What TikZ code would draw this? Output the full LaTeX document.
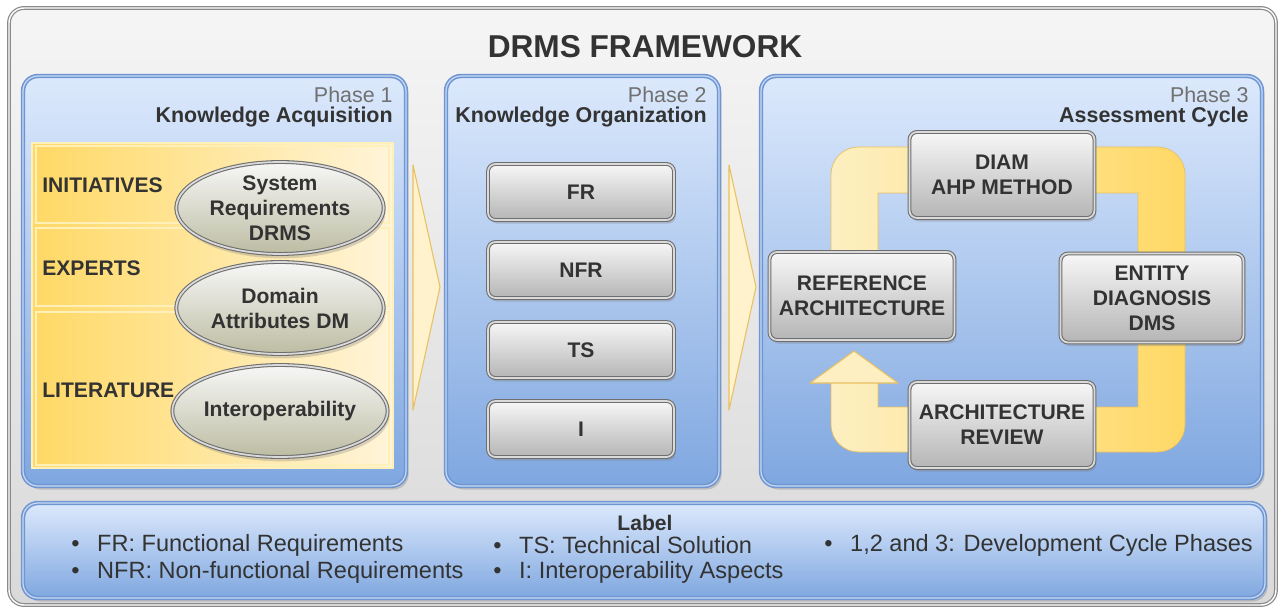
\documentclass[tikz,border=0pt]{standalone}
\usepackage{fontspec}
\setmainfont{Liberation Sans}
\usetikzlibrary{shapes.geometric,shadows,positioning}

\definecolor{txtgray}{HTML}{333333}
\definecolor{phasegray}{HTML}{707070}
\definecolor{framegray}{HTML}{8A8A8A}
\definecolor{frametop}{HTML}{F5F5F5}
\definecolor{framebot}{HTML}{D9D9D9}
\definecolor{panelline}{HTML}{6F96D2}
\definecolor{panelinner}{HTML}{C8DAF5}
\definecolor{paneltop}{HTML}{DCE9FC}
\definecolor{panelbot}{HTML}{7FA7E0}
\definecolor{goldline}{HTML}{E2BA50}
\definecolor{goldinner}{HTML}{FFEFB8}
\definecolor{goldleft}{HTML}{FFD966}
\definecolor{goldright}{HTML}{FFF4D8}
\definecolor{btnline}{HTML}{6E6E6E}
\definecolor{btninner}{HTML}{DADADA}
\definecolor{btntop}{HTML}{F7F7F7}
\definecolor{btnbot}{HTML}{B5B5B5}
\definecolor{chevfill}{HTML}{FFF2CC}
\definecolor{chevline}{HTML}{E8C060}
\definecolor{bandpale}{HTML}{FDEFC2}
\definecolor{banddeep}{HTML}{FFD865}

\newcommand\cellfont{\bfseries\fontsize{12}{14.2}\selectfont}

\tikzset{
  frame/.style={rounded corners=0.3cm, draw=framegray, double=white,
    double distance=0.8pt, line width=0.7pt, top color=frametop, bottom color=framebot},
  panel/.style={rounded corners=0.3cm, draw=panelline, double=panelinner,
    double distance=0.7pt, line width=0.9pt, top color=paneltop, bottom color=panelbot,
    drop shadow={shadow xshift=1.5pt, shadow yshift=-2pt, opacity=0.35}},
  source/.style={draw=goldline, double=goldinner, double distance=0.6pt,
    line width=0.5pt, left color=goldleft, right color=goldright},
  srclabel/.style={anchor=west, inner sep=0pt, font=\cellfont},
  blob/.style={ellipse, draw=btnline, double=btninner, double distance=1pt,
    line width=0.6pt, top color=btntop, bottom color=btnbot!90!yellow,
    minimum width=4.15cm, minimum height=1.84cm, inner sep=0pt, align=center,
    font=\cellfont, drop shadow={shadow xshift=1pt, shadow yshift=-2.5pt, opacity=0.3}},
  button/.style={rectangle, rounded corners=0.15cm, draw=btnline, double=btninner,
    double distance=1pt, line width=0.6pt, top color=btntop, bottom color=btnbot,
    minimum width=3.72cm, minimum height=1.12cm, inner sep=0pt, align=center,
    font=\cellfont, drop shadow={shadow xshift=1pt, shadow yshift=-2pt, opacity=0.35}},
  phasehead/.style={anchor=north east, inner sep=0pt, align=right,
    font=\fontsize{12.2}{11.2}\selectfont},
  chevron/.style={fill=chevfill, draw=chevline, line width=0.6pt, line join=round},
  band/.style={left color=bandpale, right color=banddeep, draw=chevline, line width=0.4pt},
  item/.style={anchor=west, inner sep=0pt, font=\fontsize{13.4}{15}\selectfont},
}

\newcommand\phaselabel[2]{\textcolor{phasegray}{#1}\\\textbf{#2}}

\begin{document}
\begin{tikzpicture}[x=0.02cm, y=-0.02cm, text=txtgray]
\useasboundingbox (0,0) rectangle (1282,611);

% frame and title
\draw[frame] (9,8) rectangle (1276,605);
\node[font=\bfseries\fontsize{18}{20}\selectfont] (title) at (645,47) {DRMS FRAMEWORK};

% phase panels
\draw[panel] (23,76) rectangle (406,486);
\draw[panel] (446,76) rectangle (719,486);
\draw[panel] (761,76) rectangle (1262,486);
\draw[panel] (23,503) rectangle (1265,598);

\node[phasehead] (ph1) at (393,87) {\phaselabel{Phase 1}{Knowledge Acquisition}};
\node[phasehead] (ph2) at (707,87) {\phaselabel{Phase 2}{Knowledge Organization}};
\node[phasehead] (ph3) at (1249,87) {\phaselabel{Phase 3}{Assessment Cycle}};

% chevrons between phases
\draw[chevron] (413,165) -- (440,287) -- (413,410) -- cycle;
\draw[chevron] (729,165) -- (756,287) -- (729,410) -- cycle;

% Phase 1 sources
\draw[source] (32,143) rectangle (393,468);
\draw[source] (36,146) rectangle (389,223);
\draw[source] (36,228) rectangle (389,306);
\draw[source] (36,312) rectangle (389,465);

\node[srclabel] (initiatives) at (42,185) {INITIATIVES};
\node[srclabel] (experts) at (42,268) {EXPERTS};
\node[srclabel] (literature) at (42,390) {LITERATURE};

\node[blob] (sysreq) at (280,208) {System\\Requirements\\DRMS};
\node[blob] (domain) at (280,308) {Domain\\Attributes DM};
\node[blob] (interop) at (280,411) {Interoperability};

% Phase 2 items
\node[button] (fr) at (581,192) {FR};
\node[button] (nfr) at (581,270) {NFR};
\node[button] (ts) at (581,350) {TS};
\node[button] (ia) at (581,429) {I};

% Phase 3 cycle
\begin{scope}
  \clip (815,130) rectangle (1200,256) (900,130) rectangle (1200,470) (815,383) rectangle (1200,470);
  \path[band, even odd rule] [rounded corners=0.55cm] (831,147) rectangle (1185,452)
    [sharp corners] (878,193) rectangle (1138,407);
\end{scope}
\path[chevron, fill=bandpale] (810,383) -- (854,351) -- (898,383) -- cycle;

\node[button, minimum width=3.7cm, minimum height=1.72cm] (diam) at (1002,175) {DIAM\\AHP METHOD};
\node[button, minimum width=3.7cm, minimum height=1.76cm] (refarch) at (862,296) {REFERENCE\\ARCHITECTURE};
\node[button, minimum width=3.66cm, minimum height=1.78cm] (entity) at (1152,298) {ENTITY\\DIAGNOSIS\\DMS};
\node[button, minimum width=3.7cm, minimum height=1.72cm] (review) at (1002,425) {ARCHITECTURE\\REVIEW};

% legend
\node[font=\bfseries\fontsize{12}{14}\selectfont] (lbl) at (645,523) {Label};
\node[item] (it1) at (71,545) {\textbullet\hspace{10pt}FR: Functional Requirements};
\node[item] (it2) at (71,572) {\textbullet\hspace{10pt}NFR: Non-functional Requirements};
\node[item] (it3) at (493,545) {\textbullet\hspace{10pt}TS: Technical Solution};
\node[item] (it4) at (493,572) {\textbullet\hspace{10pt}I: Interoperability Aspects};
\node[item] (it5) at (824,545) {\textbullet\hspace{10pt}1,2 and 3: Development Cycle Phases};
\end{tikzpicture}
\end{document}
